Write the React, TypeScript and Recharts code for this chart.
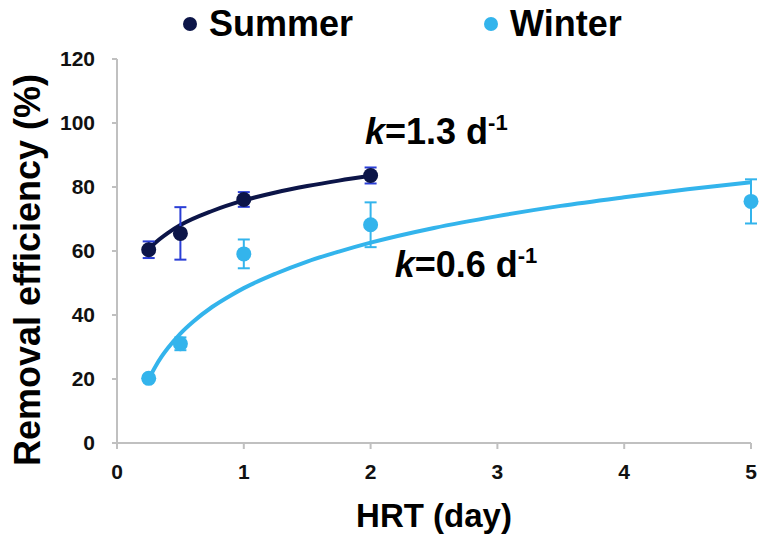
import React from 'react';
import {
  ComposedChart,
  Scatter,
  Line,
  XAxis,
  YAxis,
  ErrorBar,
  Legend,
  ReferenceDot,
  Label,
} from 'recharts';

// measured points (HRT in days, removal %)
const summerPoints = [
  { x: 0.25, y: 60.4, err: 2.6 },
  { x: 0.5, y: 65.5, err: 8.2 },
  { x: 1, y: 76.1, err: 2.3 },
  { x: 2, y: 83.6, err: 2.5 },
];

const winterPoints = [
  { x: 0.25, y: 20.2, err: 0 },
  { x: 0.5, y: 31.0, err: 2.0 },
  { x: 1, y: 59.1, err: 4.5 },
  { x: 2, y: 68.2, err: 7.0 },
  { x: 5, y: 75.5, err: 6.9 },
];

// fitted curves
const summerFit = [
  { x: 0.25, y: 60.5 },
  { x: 0.3, y: 62.5 },
  { x: 0.4, y: 65.6 },
  { x: 0.5, y: 68.1 },
  { x: 0.75, y: 72.5 },
  { x: 1, y: 75.8 },
  { x: 1.25, y: 78.3 },
  { x: 1.5, y: 80.3 },
  { x: 1.75, y: 82.0 },
  { x: 2, y: 83.5 },
];

const winterFit = [
  { x: 0.25, y: 20.0 },
  { x: 0.3, y: 23.7 },
  { x: 0.35, y: 26.9 },
  { x: 0.4, y: 29.6 },
  { x: 0.5, y: 34.2 },
  { x: 0.6, y: 37.9 },
  { x: 0.75, y: 42.5 },
  { x: 0.9, y: 46.2 },
  { x: 1, y: 48.4 },
  { x: 1.25, y: 52.9 },
  { x: 1.5, y: 56.7 },
  { x: 1.75, y: 59.8 },
  { x: 2, y: 62.6 },
  { x: 2.5, y: 67.2 },
  { x: 3, y: 70.9 },
  { x: 3.5, y: 74.1 },
  { x: 4, y: 76.8 },
  { x: 4.5, y: 79.3 },
  { x: 5, y: 81.5 },
];

const xTicks = [0, 1, 2, 3, 4, 5];
const yTicks = [0, 20, 40, 60, 80, 100, 120];

const SUMMER = '#0c1548';
const SUMMER_ERR = '#2a3ed6';
const WINTER = '#33b4ec';
const AXIS = '#c0c0c0';
const FONT = '"Liberation Sans", Arial, sans-serif';

const LegendBox = () => (
  <div style={{ position: 'relative', height: 50, fontFamily: FONT, fontWeight: 'bold', fontSize: 36 }}>
    {[
      { name: 'Summer', color: SUMMER, left: 183 },
      { name: 'Winter', color: WINTER, left: 484 },
    ].map((item) => (
      <div key={item.name} style={{ position: 'absolute', left: item.left, top: 4, display: 'flex', alignItems: 'center' }}>
        <span style={{ width: 14, height: 14, borderRadius: 7, background: item.color, display: 'inline-block', marginRight: 12 }} />
        <span style={{ color: '#000', lineHeight: '40px' }}>{item.name}</span>
      </div>
    ))}
  </div>
);

// k=... d-1 annotation
const kLabel = (value: string) => (props: any) => {
  const { viewBox } = props;
  const cx = viewBox.x + (viewBox.width || 0) / 2;
  const cy = viewBox.y + (viewBox.height || 0) / 2;
  return (
    <text x={cx} y={cy} fontFamily={FONT} fontWeight="bold" fontSize={36} fill="#000">
      <tspan fontStyle="italic">k</tspan>
      <tspan>{`=${value} d`}</tspan>
      <tspan fontSize={22} dy={-14}>-1</tspan>
    </text>
  );
};

const dot = (color: string) => (p: any) => <circle cx={p.cx} cy={p.cy} r={7.5} fill={color} />;

export default function App() {
  return (
    <div style={{ position: 'absolute', left: 0, top: 0, background: '#fff' }}>
      <ComposedChart width={761} height={535} margin={{ top: 9, right: 10, bottom: 0, left: 0 }}>
        <Legend
          verticalAlign="top"
          align="left"
          content={<LegendBox />}
          wrapperStyle={{ top: 0, left: 0, width: 761, height: 50 }}
        />
        <XAxis
          type="number"
          dataKey="x"
          domain={[0, 5]}
          ticks={xTicks}
          height={92}
          stroke={AXIS}
          strokeWidth={2}
          tickSize={6}
          tickMargin={15}
          allowDuplicatedCategory={false}
          tick={{ fill: '#111', fontFamily: FONT, fontWeight: 'bold', fontSize: 21 }}
        >
          <Label
            content={(props: any) => {
              const vb = props.viewBox;
              return (
                <text
                  x={vb.x + vb.width / 2}
                  y={vb.y + 84}
                  textAnchor="middle"
                  fontFamily={FONT}
                  fontWeight="bold"
                  fontSize={33}
                  fill="#000"
                >
                  HRT (day)
                </text>
              );
            }}
          />
        </XAxis>
        <YAxis
          type="number"
          dataKey="y"
          domain={[0, 120]}
          ticks={yTicks}
          width={117}
          stroke={AXIS}
          strokeWidth={2}
          tickSize={5}
          tickMargin={17}
          tick={{ fill: '#111', fontFamily: FONT, fontWeight: 'bold', fontSize: 21 }}
        >
          <Label
            content={() => (
              <text
                x={40}
                y={270}
                transform="rotate(-90 40 270)"
                textAnchor="middle"
                fontFamily={FONT}
                fontWeight="bold"
                fontSize={36}
                fill="#000"
              >
                Removal efficiency (%)
              </text>
            )}
          />
        </YAxis>

        <Line
          data={summerFit}
          dataKey="y"
          type="monotone"
          stroke={SUMMER}
          strokeWidth={4}
          dot={false}
          activeDot={false}
          legendType="none"
          isAnimationActive={false}
        />
        <Line
          data={winterFit}
          dataKey="y"
          type="monotone"
          stroke={WINTER}
          strokeWidth={4}
          dot={false}
          activeDot={false}
          legendType="none"
          isAnimationActive={false}
        />
        <Scatter name="Summer" data={summerPoints} dataKey="y" fill={SUMMER} shape={dot(SUMMER)} isAnimationActive={false}>
          <ErrorBar dataKey="err" direction="y" width={6} stroke={SUMMER_ERR} strokeWidth={2} />
        </Scatter>
        <Scatter name="Winter" data={winterPoints} dataKey="y" fill={WINTER} shape={dot(WINTER)} isAnimationActive={false}>
          <ErrorBar dataKey="err" direction="y" width={6} stroke={WINTER} strokeWidth={2} />
        </Scatter>

        <ReferenceDot x={1.956} y={93.4} r={0} fill="none" stroke="none" label={{ content: kLabel('1.3') }} />
        <ReferenceDot x={2.19} y={52.0} r={0} fill="none" stroke="none" label={{ content: kLabel('0.6') }} />
      </ComposedChart>
    </div>
  );
}
